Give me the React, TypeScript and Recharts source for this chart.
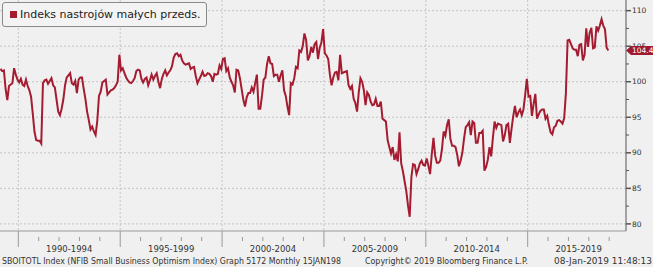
import React from 'react'
import {
  LineChart,
  Line,
  XAxis,
  YAxis,
  CartesianGrid,
  Legend,
} from 'recharts'

// NFIB Small Business Optimism Index, monthly
// first value is Feb 1989 (month index 1 counted from Jan 1989)
const START_MONTH = 1

const V_1989_1994 = [
  101.8, 101.5, 101.6, 99.0, 97.4, 99.4, 99.6, 99.8, 101.9, 101.0, 100.3,
  99.9, 100.4, 99.6, 99.4, 100.3, 99.4, 98.8, 97.9, 95.5, 93.0, 91.8, 91.7,
  91.7, 91.3, 99.8, 100.2, 100.3, 99.7, 100.1, 100.5, 99.5, 99.2, 97.5, 95.8,
  95.3, 96.2, 97.5, 99.5, 100.6, 100.9, 101.2, 99.8, 99.6, 100.1, 98.4, 100.3,
  100.6, 100.6, 99.0, 97.6, 95.8, 94.6, 93.3, 93.7, 93.0, 92.5, 94.5, 98.0,
  98.6, 99.9, 100.1, 100.3, 98.2, 98.5, 98.8, 98.9, 99.1, 99.5, 100.0, 103.8,
]
const V_1995_1999 = [
  101.6, 101.9, 101.2, 100.6, 100.2, 99.9, 99.8, 100.1, 100.5, 101.5, 101.7, 101.6,
  100.4, 99.9, 100.4, 100.6, 99.5, 100.2, 101.0, 100.3, 100.8, 101.2, 100.0, 99.1,
  100.4, 101.1, 101.6, 100.9, 101.3, 101.6, 102.2, 103.4, 103.9, 104.0, 103.6, 103.8,
  103.0, 102.6, 102.4, 102.5, 102.6, 101.8, 102.0, 102.1, 100.8, 99.8, 100.3, 100.8,
  101.4, 100.8, 100.9, 101.2, 101.1, 100.8, 100.0, 101.1, 101.0, 101.1, 102.3, 101.8,
]
const V_2000_2004 = [
  103.2, 103.3, 101.5, 101.9, 100.6, 100.0, 99.5, 98.5, 101.7, 101.6, 100.5, 99.0,
  97.5, 96.5, 97.8, 98.4, 98.4, 99.2, 98.6, 99.8, 101.0, 96.2, 96.2, 98.0,
  100.3, 100.6, 102.5, 103.6, 102.6, 102.5, 100.8, 101.0, 101.0, 100.0, 100.9, 101.6,
  98.8, 98.0, 96.5, 95.3, 99.8, 99.6, 100.5, 102.1, 101.9, 104.4, 104.2, 105.0,
  106.8, 105.9, 103.0, 103.6, 104.9, 104.1, 105.3, 105.6, 103.2, 104.8, 105.5, 107.4,
]
const V_2005_2009 = [
  104.0, 103.7, 103.2, 101.0, 99.5, 100.6, 101.3, 101.4, 100.2, 103.8, 101.2, 101.3,
  101.4, 101.5, 99.5, 99.0, 99.4, 97.6, 97.0, 95.8, 98.5, 100.5, 100.0, 98.8,
  96.7, 98.5, 98.1, 97.2, 96.7, 96.8, 97.6, 96.6, 96.6, 97.2, 94.8, 94.6,
  94.4, 91.8, 90.8, 89.9, 90.8, 89.0, 89.8, 88.8, 92.9, 88.5, 87.4, 86.0,
  84.6, 82.6, 81.0, 86.6, 88.4, 88.3, 87.0, 87.7, 88.5, 88.9, 88.3, 88.2,
]
const V_2010_2014 = [
  89.2, 88.2, 87.0, 89.8, 92.1, 89.6, 88.6, 88.6, 88.9, 90.5, 93.0, 92.4,
  93.9, 94.7, 91.9, 91.0, 91.0, 90.8, 89.7, 88.1, 88.9, 90.0, 92.0, 93.6,
  93.9, 94.3, 92.5, 94.4, 94.2, 91.4, 91.4, 92.8, 92.8, 93.1, 87.5, 88.0,
  89.0, 90.8, 89.5, 92.1, 94.4, 93.5, 94.1, 94.0, 93.9, 91.6, 92.5, 93.9,
  94.1, 91.4, 93.4, 95.2, 96.6, 95.0, 95.7, 96.1, 95.3, 96.1, 98.1, 100.4,
]
const V_2015_2018 = [
  97.9, 98.0, 95.2, 96.9, 98.3, 94.8, 95.4, 95.9, 96.1, 96.1, 94.8, 95.2,
  93.9, 92.9, 92.6, 93.6, 93.8, 94.5, 94.6, 94.4, 94.1, 94.9, 98.4, 105.8,
  105.9, 105.3, 104.7, 104.5, 104.5, 103.6, 105.2, 105.3, 103.0, 103.8, 107.5, 104.9,
  106.9, 107.6, 104.7, 104.8, 107.8, 107.2, 107.9, 108.8, 107.9, 107.4, 104.8, 104.4,
]

const SERIES_NAME = 'Indeks nastrojów małych przeds.'
const PERIOD_LABELS = ['1990-1994', '1995-1999', '2000-2004', '2005-2009', '2010-2014', '2015-2019']
const PERIOD_START_YEARS = [1990, 1995, 2000, 2005, 2010, 2015]
const YEAR_TICKS = [
  1990, 1991, 1992, 1993, 1994, 1995, 1996, 1997, 1998, 1999,
  2000, 2001, 2002, 2003, 2004, 2005, 2006, 2007, 2008, 2009,
  2010, 2011, 2012, 2013, 2014, 2015, 2016, 2017, 2018, 2019,
]
const Y_GRID = [80, 85, 90, 95, 100, 105, 110]
const Y_TICKS = [80, 82.5, 85, 87.5, 90, 92.5, 95, 97.5, 100, 102.5, 105, 107.5, 110]

const FOOTER_LEFT = 'SBOITOTL Index (NFIB Small Business Optimism Index) Graph 5172  Monthly 15JAN198'
const FOOTER_MID = 'Copyright\u00a9 2019 Bloomberg Finance L.P.'
const FOOTER_RIGHT = '08-Jan-2019 11:48:13'

const RED = '#a51b30'
const TEXT = '#333'

const ALL = [...V_1989_1994, ...V_1995_1999, ...V_2000_2004, ...V_2005_2009, ...V_2010_2014, ...V_2015_2018]
const data = ALL.map((v, i) => ({ m: START_MONTH + i, v }))
const LAST = ALL[ALL.length - 1]

// month index (from Jan 1989, mid-month points) of 1 January of a year
const yearToMonth = (y: number) => (y - 1989) * 12 - 0.5

const labelPos = PERIOD_START_YEARS.map(y => yearToMonth(y + 2.5))
const labelAt = new Map(labelPos.map((p, i) => [p, PERIOD_LABELS[i]]))
const xTicks = [...YEAR_TICKS.map(yearToMonth), ...labelPos]

function XTick(props: any) {
  const { x, y, payload } = props
  const label = labelAt.get(payload.value)
  if (label) {
    return (
      <text x={x} y={y + 21} textAnchor="middle" fontSize={8.5} fill={TEXT}>
        {label}
      </text>
    )
  }
  const year = Math.round((payload.value + 0.5) / 12) + 1989
  const major = year % 5 === 0
  return (
    <line
      x1={x}
      x2={x}
      y1={major ? y : y + 6}
      y2={major ? y + 16 : y + 10}
      stroke="#999"
      strokeWidth={1}
    />
  )
}

function YTick(props: any) {
  const { x, y, payload } = props
  const value = payload.value
  if (value === LAST) {
    return (
      <g>
        <polygon
          points={`${x},${y} ${x + 5},${y - 4.5} ${x + 27},${y - 4.5} ${x + 27},${y + 4.5} ${x + 5},${y + 4.5}`}
          fill="#9e1a30"
        />
        <text x={x + 6} y={y} dy="0.35em" fontSize={7.5} fill="#fff">
          {LAST.toFixed(1)}
        </text>
      </g>
    )
  }
  const major = value % 5 === 0
  return (
    <g>
      <line x1={x} x2={x + (major ? 5 : 3)} y1={y} y2={y} stroke="#555" strokeWidth={major ? 1.5 : 1} />
      {major && (
        <text x={x + 6} y={y} dy="0.35em" fontSize={7.5} fill={TEXT}>
          {value}
        </text>
      )}
    </g>
  )
}

function LegendBox() {
  return (
    <div
      style={{
        border: '1px solid #8a8a8a',
        borderRadius: 3,
        background: '#f3f3f3',
        width: 205,
        height: 25,
        boxSizing: 'border-box',
        display: 'flex',
        alignItems: 'center',
        paddingLeft: 7,
        fontSize: 11,
        color: '#222',
        whiteSpace: 'nowrap',
      }}
    >
      <span style={{ width: 7, height: 7, background: RED, display: 'inline-block', marginRight: 3 }} />
      {SERIES_NAME}
    </div>
  )
}

export default function App() {
  return (
    <div
      style={{
        position: 'absolute',
        left: 0,
        top: 0,
        width: 653,
        height: 267,
        background: '#f0f0f0',
        fontFamily: '"DejaVu Sans", Verdana, sans-serif',
      }}
    >
      <LineChart width={653} height={267} data={data} margin={{ top: 0, right: 0, bottom: 0, left: 0 }}>
        <CartesianGrid
          stroke="#c4c4c4"
          strokeDasharray="2 2"
          horizontalValues={Y_GRID}
          verticalValues={PERIOD_START_YEARS.map(yearToMonth)}
        />
        <XAxis
          dataKey="m"
          type="number"
          domain={[0.7, 369.4]}
          ticks={xTicks}
          interval={0}
          tick={<XTick />}
          tickLine={false}
          tickSize={0}
          tickMargin={0}
          axisLine={{ stroke: '#999' }}
          height={36}
        />
        <YAxis
          orientation="right"
          type="number"
          domain={[79, 111.5]}
          ticks={[...Y_TICKS, LAST]}
          interval={0}
          tick={<YTick />}
          tickLine={false}
          tickSize={0}
          tickMargin={0}
          axisLine={{ stroke: '#888', strokeWidth: 1.5 }}
          width={27}
        />
        <Legend
          verticalAlign="middle"
          align="center"
          wrapperStyle={{ top: 2, left: 2, width: 'auto' }}
          content={() => <LegendBox />}
        />
        <Line
          dataKey="v"
          type="linear"
          stroke={RED}
          strokeWidth={2}
          dot={false}
          activeDot={false}
          isAnimationActive={false}
        />
      </LineChart>
      <svg
        width={653}
        height={267}
        style={{ position: 'absolute', left: 0, top: 0, pointerEvents: 'none' }}
      >
        <g fontSize={8.5} fill={TEXT} style={{ whiteSpace: 'pre' }}>
          <text x={2} y={264} textLength={339} lengthAdjust="spacingAndGlyphs">{FOOTER_LEFT}</text>
          <text x={365} y={264} textLength={163} lengthAdjust="spacingAndGlyphs">{FOOTER_MID}</text>
          <text x={554} y={264} textLength={98} lengthAdjust="spacingAndGlyphs">{FOOTER_RIGHT}</text>
        </g>
      </svg>
    </div>
  )
}
